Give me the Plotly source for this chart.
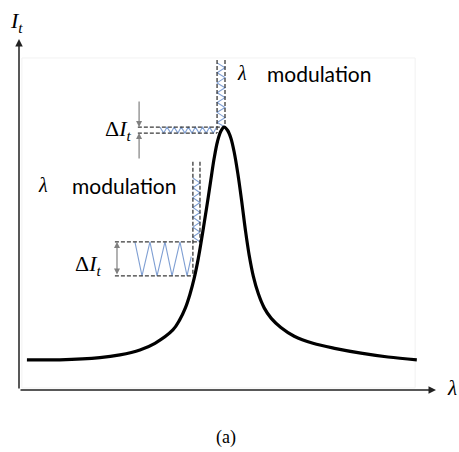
import plotly.graph_objects as go

# ---- data (arbitrary units: wavelength λ, transmitted intensity I_t) ----
curve_lam = [1.9, 9.8, 19.4, 24.2, 29.0, 32.6, 36.9, 38.5, 39.9, 41.0, 42.0, 43.0, 44.0,
             45.0, 46.0, 46.8, 47.6, 48.4, 49.2, 50.0, 50.8, 51.6, 52.5, 53.4, 54.3, 55.2,
             56.2, 57.4, 58.8, 60.5, 62.8, 66.0, 70.5, 76.0, 82.0, 88.5, 95.4]
curve_I = [8.6, 8.6, 9.2, 10.0, 11.4, 13.3, 17.1, 19.9, 23.4, 27.3, 31.8, 37.5, 44.5,
           52.0, 59.8, 66.0, 70.8, 73.7, 74.9, 74.0, 71.8, 67.8, 61.5, 53.8, 45.5, 38.4,
           32.4, 27.4, 23.4, 20.4, 17.8, 15.3, 13.3, 11.8, 10.5, 9.4, 8.6]

# lower (slope) modulation
low_lam = [41.7, 43.4]          # λ extremes
low_I = [32.5, 42.2]            # resulting intensity extremes
low_hz_lam = [27.8, 29.5, 31.4, 33.1, 35.0, 36.7, 38.6, 40.3, 41.3]
low_hz_I = [42.2, 32.5, 42.2, 32.5, 42.2, 32.5, 42.2, 32.5, 38.0]
low_vt_lam = [41.7, 43.4, 41.7, 43.4, 41.7, 43.4, 41.7, 43.4, 41.7, 43.4, 41.7, 43.4, 41.7, 43.4]
low_vt_I = [60.4, 59.0, 57.6, 56.2, 54.8, 53.4, 52.0, 50.6, 49.2, 47.8, 46.4, 45.0, 43.6, 42.2]

# upper (peak) modulation
up_lam = [47.5, 49.4]
up_I = [73.2, 74.9]
up_hz_lam = [33.8, 34.7, 35.5, 36.4, 37.2, 38.1, 38.9, 39.8, 40.6, 41.5, 42.3, 43.2, 44.0,
             44.9, 45.7, 46.6, 47.4]
up_hz_I = [74.9, 73.2, 74.9, 73.2, 74.9, 73.2, 74.9, 73.2, 74.9, 73.2, 74.9, 73.2, 74.9,
           73.2, 74.9, 73.2, 74.9]
up_vt_lam = [47.5, 49.4, 47.5, 49.4, 47.5, 49.4, 47.5, 49.4, 47.5, 49.4, 47.5, 49.4, 47.5, 49.4]
up_vt_I = [93.2, 91.8, 90.4, 89.0, 87.5, 86.1, 84.7, 83.3, 81.9, 80.5, 79.1, 77.6, 76.2, 74.9]

label_mod = "modulation"

# ---- styles ----
BLUE = "#7f9fd3"
DASH = "#3a3a3a"
GREY = "#808080"
SERIF = "Liberation Serif"
SANS = "Lato"

fig = go.Figure()

# faint frame
fig.add_shape(type="rect", x0=0.7, x1=95.0, y0=0.6, y1=94.6,
              line=dict(color="#f2f2f2", width=1), layer="below")

def dline(x, y):
    fig.add_trace(go.Scatter(x=x, y=y, mode="lines", hoverinfo="skip",
                             line=dict(color=DASH, width=1.3, dash="4px,2px")))

def zig(x, y):
    fig.add_trace(go.Scatter(x=x, y=y, mode="lines", hoverinfo="skip",
                             line=dict(color=BLUE, width=1.1)))

# lower modulation
zig(low_hz_lam, low_hz_I)
zig(low_vt_lam, low_vt_I)
dline([23.0, low_lam[1]], [low_I[1], low_I[1]])
dline([23.0, low_lam[0]], [low_I[0], low_I[0]])
dline([low_lam[0], low_lam[0]], [65.0, low_I[0]])
dline([low_lam[1], low_lam[1]], [65.0, low_I[1]])

# upper modulation
zig(up_hz_lam, up_hz_I)
zig(up_vt_lam, up_vt_I)
dline([28.5, up_lam[1]], [up_I[1], up_I[1]])
dline([28.5, up_lam[0]], [up_I[0], up_I[0]])
dline([up_lam[0], up_lam[0]], [94.0, up_I[0]])
dline([up_lam[1], up_lam[1]], [94.0, up_I[1]])

# transmission curve
fig.add_trace(go.Scatter(x=curve_lam, y=curve_I, mode="lines", hoverinfo="skip",
                         line=dict(color="black", width=3.2, shape="spline", smoothing=1)))

ann = []
# axes arrows
ann.append(dict(x=100, y=0, ax=0, ay=0, xref="x", yref="y", axref="x", ayref="y",
                showarrow=True, arrowhead=2, arrowsize=1, arrowwidth=1.5, arrowcolor="#222", text=""))
ann.append(dict(x=0, y=100, ax=0, ay=0, xref="x", yref="y", axref="x", ayref="y",
                showarrow=True, arrowhead=2, arrowsize=1, arrowwidth=1.5, arrowcolor="#222", text=""))
# ΔI arrows
ann.append(dict(x=23.5, y=low_I[1], ax=23.5, ay=low_I[0], xref="x", yref="y", axref="x", ayref="y",
                showarrow=True, arrowhead=2, startarrowhead=2, arrowside="end+start",
                arrowsize=1, arrowwidth=1.2, arrowcolor=GREY, text=""))
ann.append(dict(x=28.8, y=up_I[1], ax=28.8, ay=82.6, xref="x", yref="y", axref="x", ayref="y",
                showarrow=True, arrowhead=2, arrowsize=1, arrowwidth=1.2, arrowcolor=GREY, text=""))
ann.append(dict(x=28.8, y=up_I[0], ax=28.8, ay=65.5, xref="x", yref="y", axref="x", ayref="y",
                showarrow=True, arrowhead=2, arrowsize=1, arrowwidth=1.2, arrowcolor=GREY, text=""))

def txt(x, y, s, size, family, xanchor="center"):
    ann.append(dict(x=x, y=y, text=s, showarrow=False, xref="x", yref="y",
                    xanchor=xanchor, yanchor="middle",
                    font=dict(size=size, family=family, color="black")))

txt(-0.5, 104.8, "<i>I</i><sub><i>t</i></sub>", 22, SERIF)
txt(103.8, 0.6, "<i>λ</i>", 21, SERIF)
txt(27.3, 74.1, "Δ<i>I</i><sub><i>t</i></sub>", 22, SERIF, "right")
txt(20.1, 35.6, "Δ<i>I</i><sub><i>t</i></sub>", 22, SERIF, "right")
txt(53.5, 90.3, "<i>λ</i>", 20, SERIF)
txt(59.0, 90.3, label_mod, 21, SANS, "left")
txt(5.8, 58.4, "<i>λ</i>", 20, SERIF)
txt(12.2, 58.4, label_mod, 21, SANS, "left")
txt(49.6, -13.4, "(a)", 18, SERIF)

fig.update_layout(
    width=459, height=452, margin=dict(l=0, r=0, t=0, b=0),
    paper_bgcolor="white", plot_bgcolor="white", showlegend=False,
    xaxis=dict(range=[-4.556, 105.516], visible=False, fixedrange=True),
    yaxis=dict(range=[-17.664, 111.111], visible=False, fixedrange=True),
    annotations=ann,
)

fig.write_html("out.html")
